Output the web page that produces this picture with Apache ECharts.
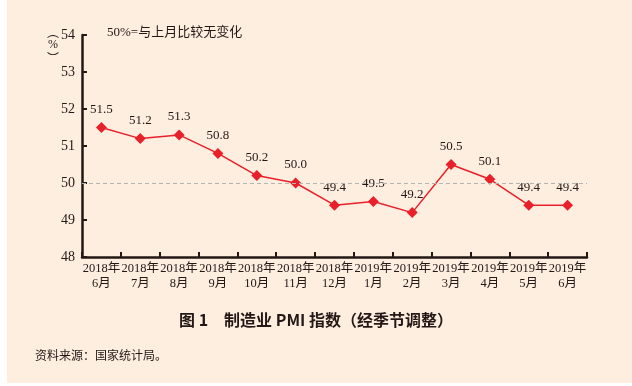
<!DOCTYPE html>
<html><head><meta charset="utf-8">
<script src="https://cdn.jsdelivr.net/npm/echarts@6/dist/echarts.min.js"></script>
<style>html,body{margin:0;padding:0;background:#fff}#c{width:632px;height:386px}</style>
</head><body><div id="c"></div>
<script>
const categories = ['2018年\n6月','2018年\n7月','2018年\n8月','2018年\n9月','2018年\n10月','2018年\n11月','2018年\n12月','2019年\n1月','2019年\n2月','2019年\n3月','2019年\n4月','2019年\n5月','2019年\n6月'];
const pmi = [51.5, 51.2, 51.3, 50.8, 50.2, 50.0, 49.4, 49.5, 49.2, 50.5, 50.1, 49.4, 49.4];
const refLine = 50;
const yMin = 48, yMax = 54, yStep = 1;
const title = '图 1　制造业 PMI 指数（经季节调整）';
const note = '50%=与上月比较无变化';
const source = '资料来源：国家统计局。';

const serif = '"Liberation Serif","Noto Sans CJK SC",serif';
const chart = echarts.init(document.getElementById('c'));
chart.setOption({
  backgroundColor: '#fff',
  animation: false,
  graphic: [
    {type:'rect', z:-10, shape:{x:7,y:0,width:625,height:383}, style:{fill:'#fdeee0'}},
    {type:'text', left:107, top:26, style:{text:note, font:'13px '+serif, fill:'#231815'}},
    {type:'text', x:53, y:26, style:{text:'︵', font:'12px "Noto Sans CJK SC"', fill:'#231815', align:'center'}},
    {type:'text', x:53, y:39, style:{text:'%', font:'12px '+serif, fill:'#231815', align:'center'}},
    {type:'text', x:53, y:52, style:{text:'︶', font:'12px "Noto Sans CJK SC"', fill:'#231815', align:'center'}},
    {type:'text', left:'center', top:312, style:{text:title, font:'bold 16px "Noto Sans CJK SC",sans-serif', fill:'#231815'}},
    {type:'text', left:35, top:349, style:{text:source, font:'12px "Noto Sans CJK SC",serif', fill:'#231815'}}
  ],
  grid: {left:82, right:45, top:35, bottom:129, containLabel:false},
  xAxis: {
    type:'category', data:categories, boundaryGap:true,
    axisLine:{lineStyle:{color:'#231815', width:2.5}},
    axisTick:{show:true, inside:true, length:5, lineStyle:{color:'#231815', width:2}},
    axisLabel:{interval:0, color:'#231815', fontFamily:serif, fontSize:12.5, lineHeight:15, margin:4}
  },
  yAxis: {
    type:'value', min:yMin, max:yMax, interval:yStep,
    axisLine:{show:true, lineStyle:{color:'#231815', width:2.5}},
    axisTick:{show:true, inside:true, length:5, lineStyle:{color:'#231815', width:2}},
    splitLine:{show:false},
    axisLabel:{color:'#231815', fontFamily:serif, fontSize:14, margin:7}
  },
  series: [{
    type:'line', data:pmi, symbol:'diamond', symbolSize:11,
    lineStyle:{color:'#e8202a', width:1.5}, itemStyle:{color:'#e8202a'},
    label:{show:true, position:'top', distance:6, color:'#231815', fontFamily:serif, fontSize:13,
      formatter:p=>p.value.toFixed(1)},
    markLine:{silent:true, symbol:'none', label:{show:false},
      lineStyle:{color:'#b4b4b4', type:[4,3], width:1.2},
      data:[{yAxis:refLine}]}
  }]
});
</script></body></html>
